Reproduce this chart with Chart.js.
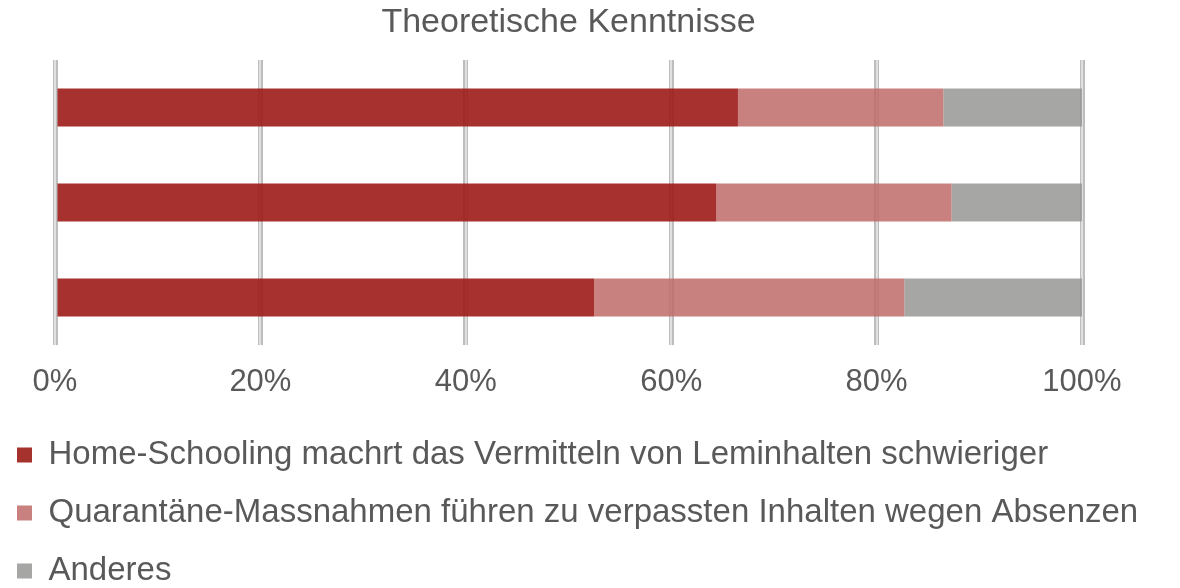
<!DOCTYPE html>
<html>
<head>
<meta charset="utf-8">
<script src="https://cdn.jsdelivr.net/npm/chart.js@4"></script>
<style>
    body { margin: 0; background: #fff; }
    #wrap { width: 1180px; height: 588px; }
</style>
</head>
<body>
<div id="wrap"><canvas id="kenntnisse"></canvas></div>
<script>
// Daten
const categories = ['', '', ''];
const homeSchooling = [66.5, 64.4, 52.5];
const quarantaene = [20.0, 22.9, 30.2];
const anderes = [13.5, 12.7, 17.3];
const tickValues = [0, 20, 40, 60, 80, 100];

const seriesNames = [
    'Home-Schooling machrt das Vermitteln von Leminhalten schwieriger',
    'Quarantäne-Massnahmen führen zu verpassten Inhalten wegen Absenzen',
    'Anderes'
];

const fontFamily = "'Liberation Sans', Arial, sans-serif";
const textColor = '#595959';

// leicht transparente balken, damit das raster durchscheint
const barColors = ['rgba(156, 27, 23, 0.9)', 'rgba(191, 107, 104, 0.85)', 'rgba(150, 150, 149, 0.85)'];
const legendColors = ['#a6322e', '#c9817f', '#a6a6a5'];

const ctx = document.getElementById('kenntnisse').getContext('2d');
const chart = new Chart(ctx, {
    type: 'bar',
    data: {
        labels: categories,
        datasets: [homeSchooling, quarantaene, anderes].map(function(values, i) {
            return {
                label: seriesNames[i],
                data: values,
                backgroundColor: barColors[i],
                borderWidth: 0,
                barPercentage: 0.4,
                categoryPercentage: 1,
            };
        })
    },
    options: {
        indexAxis: 'y',
        responsive: true,
        maintainAspectRatio: false,
        animation: false,
        layout: {
            padding: { left: -8, right: 0, top: 0, bottom: -9.5 }
        },
        scales: {
            x: {
                stacked: true,
                min: 0,
                max: 100,
                afterBuildTicks: function(scale) {
                    scale.ticks = tickValues.map(function(v) { return { value: v }; });
                },
                ticks: {
                    padding: 19,
                    color: textColor,
                    font: { family: fontFamily, size: 31 },
                    callback: function(v) { return v + '%'; }
                },
                grid: {
                    color: '#bdbdbd',
                    lineWidth: 5,
                    drawTicks: false,
                },
                border: { display: false },
                afterFit: function(scale) { scale.height = 68.5; }
            },
            x2: {
                position: 'top',
                min: 0,
                max: 100,
                afterBuildTicks: function(scale) {
                    scale.ticks = tickValues.map(function(v) { return { value: v }; });
                },
                ticks: { display: false },
                grid: {
                    color: '#e0e0e0',
                    lineWidth: 2,
                    drawTicks: false,
                },
                border: { display: false }
            },
            y: {
                stacked: true,
                ticks: { display: false },
                grid: { display: false },
                border: { display: false },
                afterFit: function(scale) { scale.width = 63; }
            },
            // leerer rand rechts, damit die legende die volle breite behält
            yRand: {
                position: 'right',
                ticks: { display: false },
                grid: { display: false },
                border: { display: false },
                afterFit: function(scale) { scale.width = 98; }
            }
        },
        plugins: {
            title: {
                display: true,
                text: 'Theoretische Kenntnisse',
                fullSize: false,
                color: textColor,
                font: { family: fontFamily, size: 34, weight: 'normal' },
                padding: { top: 2.6, bottom: 16.6 }
            },
            legend: {
                position: 'bottom',
                align: 'start',
                labels: {
                    color: textColor,
                    font: { family: fontFamily, size: 33 },
                    boxWidth: 15,
                    boxHeight: 15,
                    padding: 25,
                    generateLabels: function(chart) {
                        return chart.data.datasets.map(function(ds, i) {
                            return {
                                text: ds.label,
                                fillStyle: legendColors[i],
                                strokeStyle: legendColors[i],
                                lineWidth: 0,
                                fontColor: textColor,
                                datasetIndex: i
                            };
                        });
                    }
                }
            },
            tooltip: { enabled: false }
        }
    }
});
</script>
</body>
</html>
